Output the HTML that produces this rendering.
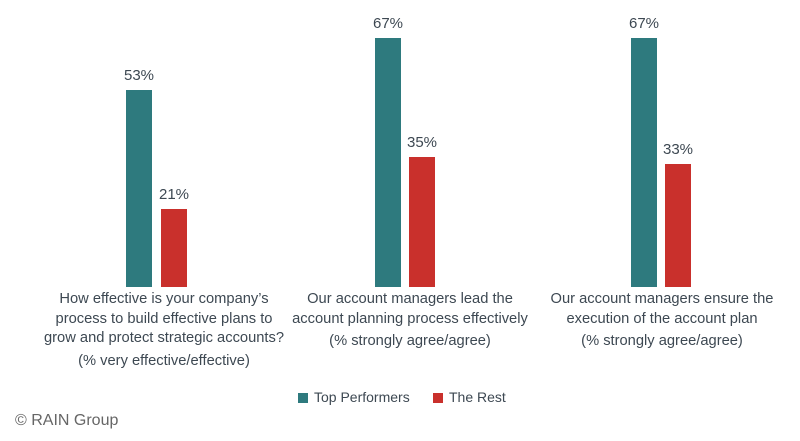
<!DOCTYPE html>
<html><head><style>
body{margin:0;width:800px;height:441px;background:#fff;position:relative;overflow:hidden;font-family:"Liberation Sans",sans-serif;color:#3d4852}
.b{position:absolute;bottom:154px;width:26px}
.t{background:#2e7a7e}.r{background:#c9302c}
.v{position:absolute;font-size:15px;width:60px;text-align:center;color:#3d4852}
.c{position:absolute;top:290px;font-size:14.7px;line-height:19.5px;text-align:center;width:300px}
.c div{margin-top:3px}
</style></head><body>
<div class="b t" style="left:126px;top:90px"></div>
<div class="b r" style="left:161px;top:209px"></div>
<div class="v" style="left:109px;top:67px">53%</div>
<div class="v" style="left:144px;top:186px">21%</div>
<div class="b t" style="left:375px;top:38px"></div>
<div class="b r" style="left:409px;top:157px"></div>
<div class="v" style="left:358px;top:15px">67%</div>
<div class="v" style="left:392px;top:134px">35%</div>
<div class="b t" style="left:631px;top:38px"></div>
<div class="b r" style="left:665px;top:164px"></div>
<div class="v" style="left:614px;top:15px">67%</div>
<div class="v" style="left:648px;top:141px">33%</div>
<div class="c" style="left:14px">How effective is your company’s<br>process to build effective plans to<br>grow and protect strategic accounts?<div>(% very effective/effective)</div></div>
<div class="c" style="left:260px">Our account managers lead the<br>account planning process effectively<div>(% strongly agree/agree)</div></div>
<div class="c" style="left:512px">Our account managers ensure the<br>execution of the account plan<div>(% strongly agree/agree)</div></div>
<div style="position:absolute;left:298px;top:393px;width:10px;height:10px;background:#2e7a7e"></div>
<div style="position:absolute;left:314px;top:389px;font-size:14px">Top Performers</div>
<div style="position:absolute;left:433px;top:393px;width:10px;height:10px;background:#c9302c"></div>
<div style="position:absolute;left:449px;top:389px;font-size:14px">The Rest</div>
<div style="position:absolute;left:15px;top:412px;font-size:16px;color:#666">© RAIN Group</div>
</body></html>
